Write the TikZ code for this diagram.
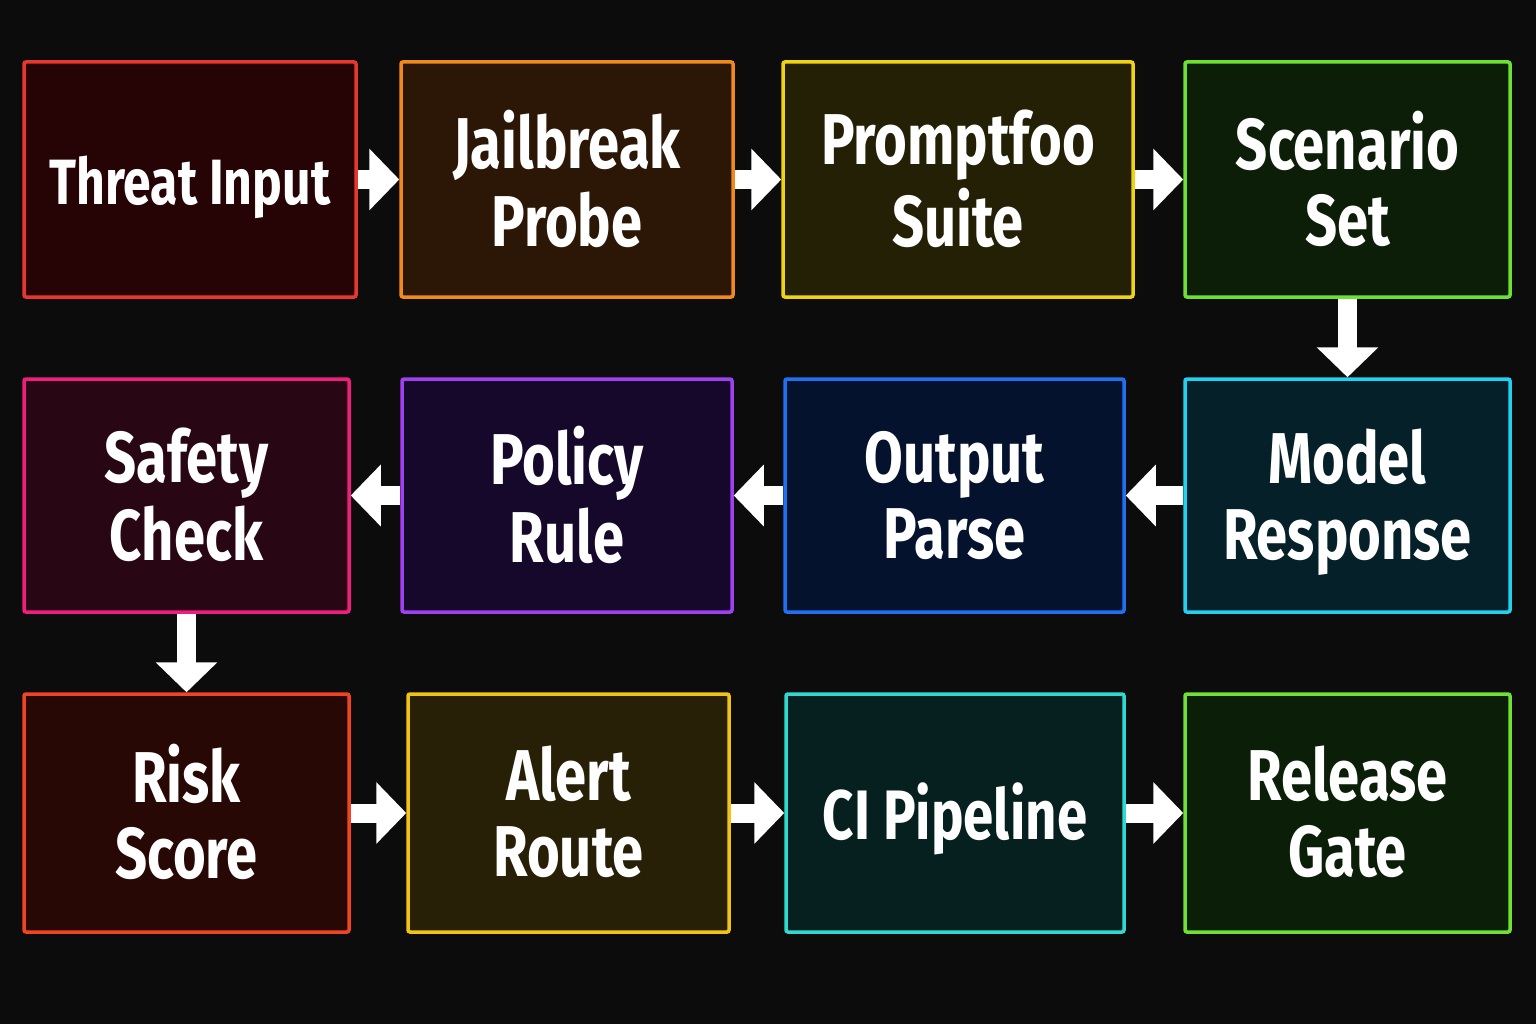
\documentclass[tikz,border=0pt]{standalone}
\usepackage{fontspec}
\setmainfont{Fira Sans}
\usetikzlibrary{arrows.meta}
\definecolor{bg}{HTML}{0C0C0D}
\newcommand{\lb}[1]{\scalebox{0.78}[1]{\begin{tabular}{@{}c@{}}#1\end{tabular}}}
\begin{document}
\begin{tikzpicture}[x=1pt,y=-1pt,
  box/.style={draw=#1,line width=3.5pt,rounded corners=2pt,inner sep=0pt},
  txt/.style={text=white,inner sep=0pt,yshift=-10pt,font=\fontsize{72}{76}\selectfont\bfseries},
  arr/.style={white,line width=19pt,-{Triangle[length=30pt,width=60pt]}}]
\fill[bg] (0,0) rectangle (1536,1024);
\useasboundingbox (0,0) rectangle (1536,1024);
\newcommand{\bx}[9]{% name x1 y1 x2 y2 stroke fill text
  \node[box=#6,fill=#7,minimum width=#4-#2,minimum height=#5-#3] (#1) at ({(#2+#4)/2},{(#3+#5)/2}) {};
  \node[txt] (#1t) at (#1.center) {#8};}
\definecolor{c1}{HTML}{E8382E}\definecolor{f1}{HTML}{260405}
\definecolor{c2}{HTML}{F08A1C}\definecolor{f2}{HTML}{2C1606}
\definecolor{c3}{HTML}{F0D414}\definecolor{f3}{HTML}{242006}
\definecolor{c4}{HTML}{6EE034}\definecolor{f4}{HTML}{0C1E08}
\definecolor{c5}{HTML}{F01E7C}\definecolor{f5}{HTML}{280614}
\definecolor{c6}{HTML}{A040F0}\definecolor{f6}{HTML}{16082A}
\definecolor{c7}{HTML}{2070F0}\definecolor{f7}{HTML}{04122E}
\definecolor{c8}{HTML}{22D0F0}\definecolor{f8}{HTML}{052028}
\definecolor{c9}{HTML}{F04422}\definecolor{f9}{HTML}{280804}
\definecolor{c10}{HTML}{F0C414}\definecolor{f10}{HTML}{282006}
\definecolor{c11}{HTML}{30D8D0}\definecolor{f11}{HTML}{05201E}
\definecolor{c12}{HTML}{70E034}\definecolor{f12}{HTML}{0A1E08}
\bx{a}{24}{62}{356}{297}{c1}{f1}{\lb{\fontsize{64}{66}\selectfont Threat Input}}{}
\bx{b}{401}{62}{733}{297}{c2}{f2}{\lb{Jailbreak\\Probe}}{}
\bx{c}{783}{62}{1133}{297}{c3}{f3}{\lb{Promptfoo\\Suite}}{}
\bx{d}{1185}{62}{1510}{297}{c4}{f4}{\lb{Scenario\\Set}}{}
\bx{e}{24}{379}{349}{612}{c5}{f5}{\lb{Safety\\Check}}{}
\bx{f}{402}{379}{732}{612}{c6}{f6}{\lb{Policy\\Rule}}{}
\bx{g}{785}{379}{1124}{612}{c7}{f7}{\lb{Output\\Parse}}{}
\bx{h}{1185}{379}{1510}{612}{c8}{f8}{\lb{Model\\Response}}{}
\bx{i}{24}{694}{349}{932}{c9}{f9}{\lb{Risk\\Score}}{}
\bx{j}{408}{694}{729}{932}{c10}{f10}{\lb{Alert\\Route}}{}
\bx{k}{786}{694}{1124}{932}{c11}{f11}{\lb{\fontsize{70}{72}\selectfont CI Pipeline}}{}
\bx{l}{1185}{694}{1510}{932}{c12}{f12}{\lb{Release\\Gate}}{}
\draw[arr] (a.east) -- (b.west);
\draw[arr] (b.east) -- (c.west);
\draw[arr] (c.east) -- (d.west);
\draw[arr] (d.south) -- (h.north);
\draw[arr] (h.west) -- (g.east);
\draw[arr] (g.west) -- (f.east);
\draw[arr] (f.west) -- (e.east);
\draw[arr] (e.south) -- (i.north);
\draw[arr] (i.east) -- (j.west);
\draw[arr] (j.east) -- (k.west);
\draw[arr] (k.east) -- (l.west);
\end{tikzpicture}
\end{document}
